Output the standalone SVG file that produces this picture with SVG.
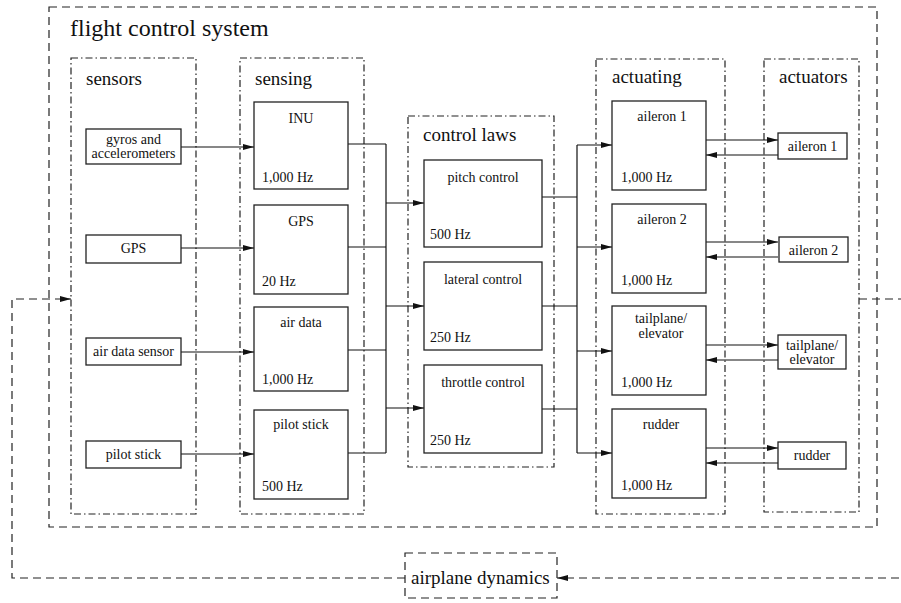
<svg xmlns="http://www.w3.org/2000/svg" width="901" height="603" viewBox="0 0 901 603">
<style>
text{font-family:"Liberation Serif","Times New Roman",serif;fill:#111}
.t{font-size:24px}
.s{font-size:19px}
.l{font-size:14px}
.c{text-anchor:middle}
.box{fill:#fff;stroke:#222;stroke-width:1.3}
.grp{fill:none;stroke:#222;stroke-width:1.2;stroke-dasharray:7 3 1.5 3}
.dash{fill:none;stroke:#222;stroke-width:1.2;stroke-dasharray:8 5}
.w{fill:none;stroke:#111;stroke-width:1.2}
.fb{fill:none;stroke:#222;stroke-width:1.2;stroke-dasharray:8 5}
</style>
<defs>
<marker id="ah" markerUnits="userSpaceOnUse" markerWidth="12" markerHeight="8" refX="11" refY="3" orient="auto">
<path d="M0,0 L11,3 L0,6 z" fill="#111"/>
</marker>
</defs>
<rect width="901" height="603" fill="#fff"/>

<g id="flight-control-system">
<rect class="dash" x="49" y="7" width="828" height="520"/>
<text class="t" x="70" y="36">flight control system</text>
</g>

<g id="sensors">
<rect class="grp" x="71" y="58" width="125" height="456"/>
<text class="s" x="86" y="85">sensors</text>
</g>
<g id="sensing">
<rect class="grp" x="240" y="58" width="124" height="456"/>
<text class="s" x="255" y="85">sensing</text>
</g>
<g id="control-laws">
<rect class="grp" x="408" y="116" width="146" height="351"/>
<text class="s" x="423" y="141">control laws</text>
</g>
<g id="actuating">
<rect class="grp" x="596" y="59" width="129" height="455"/>
<text class="s" x="612" y="83">actuating</text>
</g>
<g id="actuators">
<rect class="grp" x="764" y="59" width="95" height="453"/>
<text class="s" x="779" y="83">actuators</text>
</g>

<g id="connectors">
<!-- sensors to sensing -->
<line class="w" x1="181" y1="147" x2="254" y2="147" marker-end="url(#ah)"/>
<line class="w" x1="181" y1="248" x2="254" y2="248" marker-end="url(#ah)"/>
<line class="w" x1="181" y1="352" x2="254" y2="352" marker-end="url(#ah)"/>
<line class="w" x1="181" y1="454" x2="254" y2="454" marker-end="url(#ah)"/>
<!-- sensing to control laws -->
<path class="w" d="M348,144 H386 M348,247 H386 M348,350 H386 M348,453 H386 M386,144 V453"/>
<line class="w" x1="386" y1="203" x2="424" y2="203" marker-end="url(#ah)"/>
<line class="w" x1="386" y1="306" x2="424" y2="306" marker-end="url(#ah)"/>
<line class="w" x1="386" y1="408" x2="424" y2="408" marker-end="url(#ah)"/>
<!-- control laws to actuating -->
<path class="w" d="M542,197 H577 M542,306 H577 M542,409 H577 M577,145 V453"/>
<line class="w" x1="577" y1="145" x2="612" y2="145" marker-end="url(#ah)"/>
<line class="w" x1="577" y1="247" x2="612" y2="247" marker-end="url(#ah)"/>
<line class="w" x1="577" y1="351" x2="612" y2="351" marker-end="url(#ah)"/>
<line class="w" x1="577" y1="453" x2="612" y2="453" marker-end="url(#ah)"/>
<!-- actuating <-> actuators -->
<line class="w" x1="706" y1="140" x2="778" y2="140" marker-end="url(#ah)"/>
<line class="w" x1="778" y1="155" x2="706" y2="155" marker-end="url(#ah)"/>
<line class="w" x1="706" y1="242" x2="778" y2="242" marker-end="url(#ah)"/>
<line class="w" x1="778" y1="257" x2="706" y2="257" marker-end="url(#ah)"/>
<line class="w" x1="706" y1="345" x2="778" y2="345" marker-end="url(#ah)"/>
<line class="w" x1="778" y1="360" x2="706" y2="360" marker-end="url(#ah)"/>
<line class="w" x1="706" y1="448" x2="778" y2="448" marker-end="url(#ah)"/>
<line class="w" x1="778" y1="463" x2="706" y2="463" marker-end="url(#ah)"/>
<!-- feedback -->
<path class="fb" d="M859,299 H915 V578 H557" marker-end="url(#ah)"/>
<path class="fb" d="M405,578 H12 V299 H71" marker-end="url(#ah)"/>
</g>

<!-- sensor nodes -->
<g id="gyros">
<rect class="box" x="86" y="129" width="95" height="35"/>
<text class="l c" x="133.5" y="144">gyros and</text>
<text class="l c" x="133.5" y="158">accelerometers</text>
</g>
<g id="gps-sensor">
<rect class="box" x="86" y="235" width="95" height="28"/>
<text class="l c" x="133.5" y="253">GPS</text>
</g>
<g id="air-data-sensor">
<rect class="box" x="86" y="338" width="95" height="27"/>
<text class="l c" x="133.5" y="356">air data sensor</text>
</g>
<g id="pilot-stick-sensor">
<rect class="box" x="86" y="441" width="95" height="27"/>
<text class="l c" x="133.5" y="459">pilot stick</text>
</g>

<!-- sensing nodes -->
<g id="inu">
<rect class="box" x="254" y="102" width="94" height="87"/>
<text class="l c" x="301" y="123">INU</text>
<text class="l" x="262" y="182">1,000 Hz</text>
</g>
<g id="gps">
<rect class="box" x="254" y="205" width="94" height="89"/>
<text class="l c" x="301" y="226">GPS</text>
<text class="l" x="262" y="286">20 Hz</text>
</g>
<g id="air-data">
<rect class="box" x="254" y="307" width="94" height="84"/>
<text class="l c" x="301" y="327">air data</text>
<text class="l" x="262" y="384">1,000 Hz</text>
</g>
<g id="pilot-stick">
<rect class="box" x="254" y="410" width="94" height="89"/>
<text class="l c" x="301" y="429">pilot stick</text>
<text class="l" x="262" y="491">500 Hz</text>
</g>

<!-- control law nodes -->
<g id="pitch-control">
<rect class="box" x="424" y="160" width="118" height="87"/>
<text class="l c" x="483" y="182">pitch control</text>
<text class="l" x="430" y="239">500 Hz</text>
</g>
<g id="lateral-control">
<rect class="box" x="424" y="262" width="118" height="88"/>
<text class="l c" x="483" y="284">lateral control</text>
<text class="l" x="430" y="342">250 Hz</text>
</g>
<g id="throttle-control">
<rect class="box" x="424" y="365" width="118" height="88"/>
<text class="l c" x="483" y="387">throttle control</text>
<text class="l" x="430" y="445">250 Hz</text>
</g>

<!-- actuating nodes -->
<g id="act-aileron1">
<rect class="box" x="612" y="101" width="94" height="89"/>
<text class="l c" x="662" y="121">aileron 1</text>
<text class="l" x="621" y="182">1,000 Hz</text>
</g>
<g id="act-aileron2">
<rect class="box" x="612" y="204" width="94" height="89"/>
<text class="l c" x="662" y="224">aileron 2</text>
<text class="l" x="621" y="285">1,000 Hz</text>
</g>
<g id="act-tailplane">
<rect class="box" x="612" y="306" width="94" height="89"/>
<text class="l c" x="661" y="323">tailplane/</text>
<text class="l c" x="661" y="338">elevator</text>
<text class="l" x="621" y="387">1,000 Hz</text>
</g>
<g id="act-rudder">
<rect class="box" x="612" y="409" width="94" height="89"/>
<text class="l c" x="661" y="429">rudder</text>
<text class="l" x="621" y="490">1,000 Hz</text>
</g>

<!-- actuator nodes -->
<g id="aileron1">
<rect class="box" x="778" y="133" width="69" height="26"/>
<text class="l c" x="812.5" y="151">aileron 1</text>
</g>
<g id="aileron2">
<rect class="box" x="779" y="237" width="69" height="25"/>
<text class="l c" x="813.5" y="255">aileron 2</text>
</g>
<g id="tailplane">
<rect class="box" x="778" y="335" width="68" height="34"/>
<text class="l c" x="812" y="350">tailplane/</text>
<text class="l c" x="812" y="364">elevator</text>
</g>
<g id="rudder">
<rect class="box" x="778" y="442" width="68" height="27"/>
<text class="l c" x="812" y="460">rudder</text>
</g>

<g id="airplane-dynamics">
<rect class="dash" x="405" y="553" width="152" height="45"/>
<text class="s" x="411" y="584">airplane dynamics</text>
</g>
</svg>
